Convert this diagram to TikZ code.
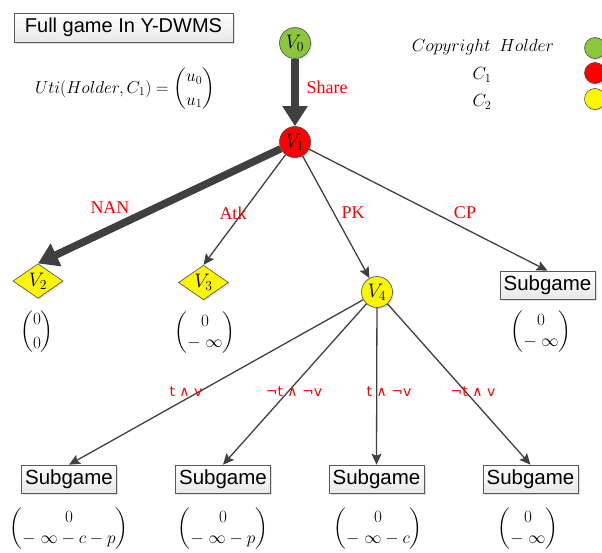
\RequirePackage{fix-cm}
\documentclass[tikz,border=0pt]{standalone}
\usepackage{amsmath}
\usepackage{fontspec}
\setmainfont{Liberation Serif}
\newfontfamily\sansf{Liberation Sans}
\newfontfamily\dejavu{DejaVu Sans}
\usetikzlibrary{arrows.meta,shapes.geometric,shadows}
\definecolor{edgegray}{RGB}{64,64,64}
\definecolor{ngreen}{RGB}{140,198,63}
\definecolor{nred}{RGB}{255,0,0}
\definecolor{nyellow}{RGB}{250,245,0}
\definecolor{lred}{RGB}{255,0,0}
\tikzset{
  shad/.style={drop shadow={shadow xshift=1.5pt,shadow yshift=-1.5pt,opacity=0.25}},
  player/.style={circle, draw=gray!60!black, line width=0.6pt, minimum size=31pt, inner sep=0pt, font=\fontsize{19.5}{22}\selectfont, shad},
  legdot/.style={circle, draw=gray!60!black, line width=0.6pt, minimum size=21pt, inner sep=0pt, shad},
  leaf/.style={diamond, draw=gray!60!black, line width=0.6pt, fill=nyellow, minimum width=50pt, minimum height=32pt, inner sep=0pt, font=\fontsize{19.5}{22}\selectfont, shad},
  sbox/.style={draw=gray!70!black, line width=0.6pt, top color=white, bottom color=gray!18, minimum width=95pt, minimum height=28pt, inner sep=0pt, font=\sansf\fontsize{20.5}{23}\selectfont, shad},
  edge/.style={draw=edgegray, line width=1.3pt, -{Stealth[length=11pt,width=10pt,inset=2pt]}},
  bigedge/.style={draw=edgegray, line width=7.5pt, -{Triangle[length=20pt,width=24pt]}},
  elab/.style={text=lred, font=\fontsize{18}{20}\selectfont},
  clab/.style={text=lred, font=\dejavu\fontsize{14}{16}\selectfont},
  pay/.style={font=\fontsize{17.2}{20}\selectfont},
}
\begin{document}
\begin{tikzpicture}[x=1pt,y=-1pt]
\useasboundingbox (0,0) rectangle (602,552);
% title and formula
\node[sbox, minimum width=219pt, minimum height=29pt, font=\sansf\fontsize{20}{23}\selectfont] (title) at (123.5,27.5) {Full game In Y-DWMS};
\node[pay, font=\fontsize{17.3}{20}\selectfont] (uti) at (125,89) {$Uti(Holder,C_1)=\dbinom{u_0}{u_1}$};
% legend
\node[pay, font=\fontsize{17.6}{20}\selectfont] (lh) at (483,47) {$Copyright~~Holder$};
\node[pay, font=\fontsize{17.6}{20}\selectfont] (lc1) at (482,75) {$C_1$};
\node[pay, font=\fontsize{17.6}{20}\selectfont] (lc2) at (482,102) {$C_2$};
\node[legdot, fill=ngreen] (dg) at (595,48) {};
\node[legdot, fill=nred] (dr) at (595,73) {};
\node[legdot, fill=nyellow] (dy) at (595,99) {};
% tree nodes
\node[player, fill=ngreen] (v0) at (295,43) {$V_0$};
\node[player, fill=nred] (v1) at (295,142) {$V_1$};
\node[leaf] (v2) at (38,281) {$V_2$};
\node[leaf] (v3) at (203.5,282.5) {$V_3$};
\node[player, fill=nyellow] (v4) at (377,292) {$V_4$};
\node[sbox] (cp) at (547.5,285) {Subgame};
\node[sbox] (s1) at (69,479) {Subgame};
\node[sbox] (s2) at (223,479) {Subgame};
\node[sbox] (s3) at (376.5,479) {Subgame};
\node[sbox] (s4) at (530.5,479) {Subgame};
% payoffs
\node[pay] (p2) at (37,332) {$\dbinom{0}{0}$};
\node[pay] (p3) at (205,333) {$\begin{pmatrix}0\\[1pt]-\;\infty\end{pmatrix}$};
\node[pay] (pcp) at (541,332) {$\begin{pmatrix}0\\[1pt]-\;\infty\end{pmatrix}$};
\node[pay] (ps1) at (69,529) {$\begin{pmatrix}0\\[1pt]-\;\infty-c-p\end{pmatrix}$};
\node[pay] (ps2) at (223,529) {$\begin{pmatrix}0\\[1pt]-\;\infty-p\end{pmatrix}$};
\node[pay] (ps3) at (378,529) {$\begin{pmatrix}0\\[1pt]-\;\infty-c\end{pmatrix}$};
\node[pay] (ps4) at (528,529) {$\begin{pmatrix}0\\[1pt]-\;\infty\end{pmatrix}$};
% edges
\draw[bigedge] (v0) -- (v1);
\draw[bigedge] (v1) -- (v2.north);
\draw[edge] (v1) -- (v3.north);
\draw[edge] (v1) -- (v4);
\draw[edge] (v1) -- (cp.north);
\draw[edge] (v4) -- (s1.north);
\draw[edge] (v4) -- (s2.north);
\draw[edge] (v4) -- (s3.north);
\draw[edge] (v4) -- (s4.north);
% edge labels
\node[elab] (lshare) at (327,87) {Share};
\node[elab] (lnan) at (110,208) {NAN};
\node[elab] (latk) at (233,213) {Atk};
\node[elab] (lpk) at (353,213) {PK};
\node[elab] (lcp) at (465,213) {CP};
\node[clab] (l1) at (186,392) {t ∧ v};
\node[clab] (l2) at (294,392) {¬t ∧ ¬v};
\node[clab] (l3) at (389,392) {t ∧ ¬v};
\node[clab] (l4) at (473,392) {¬t ∧ v};
\end{tikzpicture}
\end{document}
